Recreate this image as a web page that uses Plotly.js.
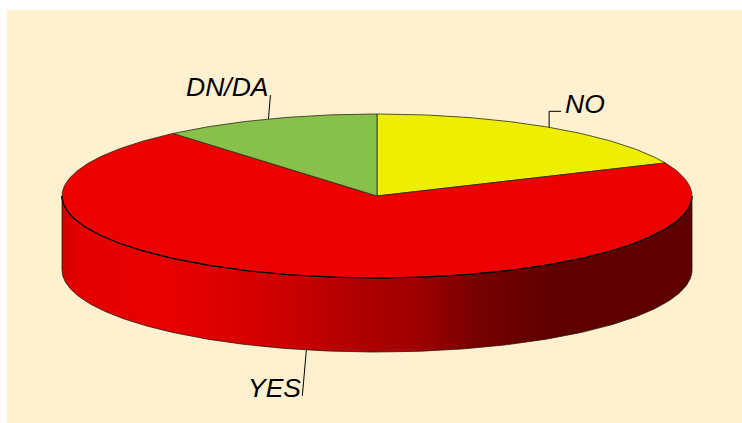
<!DOCTYPE html>
<html>
<head>
<meta charset="utf-8">
<script src="https://cdn.plot.ly/plotly-3.0.1.min.js"></script>
<style>html,body{margin:0;padding:0;background:#fff;overflow:hidden}#chart{width:742px;height:423px}</style>
</head>
<body>
<div id="chart"></div>
<script>
// Data, clockwise from 12 o'clock
var categories = ['NO', 'YES', 'DN/DA'];
var shares = [18.4, 70.4, 11.2];
var sliceColors = ['#eeee00', '#ec0000', '#88c04c'];

// Pie geometry in pixels
var W = 742, H = 423, CX = 377, CY = 196, RX = 315, RY = 82, DEPTH = 74;

function px(a, r) { return CX + RX * (r === undefined ? 1 : r) * Math.sin(a); }
function py(a, r, d) { return CY - RY * (r === undefined ? 1 : r) * Math.cos(a) + (d || 0); }
function rad(pct) { return pct / 100 * 2 * Math.PI; }
function arc(a0, a1, d) {
  var xs = [], ys = [], n = Math.max(2, Math.ceil(Math.abs(a1 - a0) * 90));
  for (var i = 0; i <= n; i++) {
    var a = a0 + (a1 - a0) * i / n;
    xs.push(px(a)); ys.push(py(a, 1, d));
  }
  return {x: xs, y: ys};
}

var traces = [];

// Side wall: front half of the cylinder
var wallTop = arc(Math.PI / 2, 3 * Math.PI / 2, 0);
var wallBot = arc(3 * Math.PI / 2, Math.PI / 2, DEPTH);
var wallStops = [
  [0, '#d40000'], [0.03, '#e40000'], [0.16, '#e80000'], [0.27, '#dc0000'],
  [0.37, '#c80000'], [0.47, '#b00000'], [0.56, '#a00000'], [0.66, '#780000'],
  [0.78, '#5e0000'], [1, '#5e0000']
];
traces.push({
  type: 'scatter', mode: 'lines',
  x: wallTop.x.concat(wallBot.x).concat([wallTop.x[0]]),
  y: wallTop.y.concat(wallBot.y).concat([wallTop.y[0]]),
  fill: 'toself',
  fillgradient: {type: 'horizontal', colorscale: wallStops},
  line: {color: '#2a1a10', width: 0.8},
  hoverinfo: 'skip', showlegend: false
});

// Top slices and leader lines, computed from the shares
var leaderPx = {
  'NO': [[0, -16], [12, -16]],
  'YES': [[-4, 46]],
  'DN/DA': [[2, -24]]
};
var labelPx = {
  'NO': {dx: 16, dy: -23, anchor: 'left'},
  'YES': {dx: -5, dy: 38, anchor: 'right'},
  'DN/DA': {dx: 0, dy: -32, anchor: 'right'}
};
var annotations = [];
var cum = 0;
categories.forEach(function (name, i) {
  var a0 = rad(cum), a1 = rad(cum + shares[i]), mid = (a0 + a1) / 2;
  cum += shares[i];
  var e = arc(a0, a1, 0);
  traces.push({
    type: 'scatter', mode: 'lines', name: name,
    x: [CX].concat(e.x).concat([CX]),
    y: [CY].concat(e.y).concat([CY]),
    fill: 'toself', fillcolor: sliceColors[i],
    line: {color: '#2b2b10', width: 0.8},
    hoverinfo: 'name', showlegend: false
  });
  var front = Math.cos(mid) < 0;
  var sx = px(mid), sy = py(mid, 1, front ? DEPTH : 0);
  var lx = [sx], ly = [sy];
  leaderPx[name].forEach(function (o) { lx.push(sx + o[0]); ly.push(sy + o[1]); });
  traces.push({
    type: 'scatter', mode: 'lines', x: lx, y: ly,
    line: {color: '#000000', width: 1},
    hoverinfo: 'skip', showlegend: false
  });
  var lab = labelPx[name];
  annotations.push({
    x: sx + lab.dx, y: sy + lab.dy, xref: 'x', yref: 'y',
    text: '<i>' + name + '</i>', showarrow: false,
    xanchor: lab.anchor, yanchor: 'middle', xshift: 0,
    borderpad: 0, borderwidth: 0,
    font: {family: '"Liberation Sans", Arial, sans-serif', size: 26.5, color: '#000000'}
  });
});

// Crisp black rim where the top face meets the wall
var rim = arc(Math.PI / 2, 3 * Math.PI / 2, 0);
traces.push({
  type: 'scatter', mode: 'lines', x: rim.x, y: rim.y,
  line: {color: '#000000', width: 1.2},
  hoverinfo: 'skip', showlegend: false
});

var layout = {
  width: W, height: H,
  margin: {l: 0, r: 0, t: 0, b: 0, pad: 0},
  paper_bgcolor: '#ffffff', plot_bgcolor: 'rgba(0,0,0,0)',
  xaxis: {range: [0, W], visible: false, fixedrange: true},
  yaxis: {range: [H, 0], visible: false, fixedrange: true},
  showlegend: false,
  annotations: annotations,
  shapes: [{
    type: 'rect', xref: 'x', yref: 'y', layer: 'below',
    x0: 7, x1: W, y0: 10, y1: H,
    fillcolor: '#fff1cf', line: {width: 0}
  }]
};
Plotly.newPlot('chart', traces, layout, {displayModeBar: false, staticPlot: true});
</script>
</body>
</html>
